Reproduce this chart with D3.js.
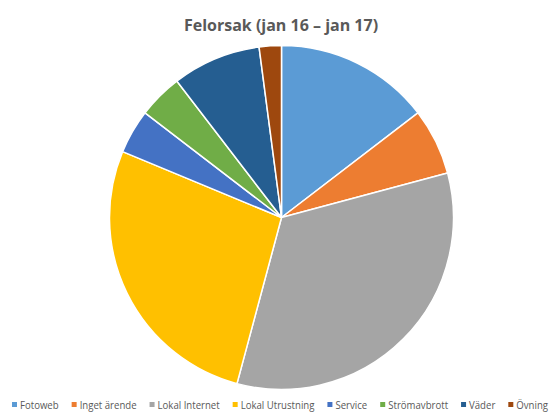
<!DOCTYPE html>
<html><head><meta charset="utf-8">
<script src="https://cdn.jsdelivr.net/npm/d3@7"></script>
<style>html,body{margin:0;padding:0;background:#fff;}svg{display:block;}</style>
</head><body>
<svg id="chart" width="557" height="412"></svg>
<script>
const categories = ["Fotoweb","Inget ärende","Lokal Internet","Lokal Utrustning","Service","Strömavbrott","Väder","Övning"];
const values = [7,3,16,13,2,2,4,1];
const colors = ["#5B9BD5","#ED7D31","#A5A5A5","#FFC000","#4472C4","#70AD47","#255E91","#9E480E"];
const title = "Felorsak (jan 16 – jan 17)";

const svg = d3.select("#chart");
const cx = 281.5, cy = 217.5, R = 172;

svg.append("text").attr("x", 281).attr("y", 31).attr("text-anchor","middle")
  .attr("font-family","'Open Sans', 'Liberation Sans', sans-serif").attr("font-weight","bold")
  .attr("font-size", 16).attr("fill","#595959").text(title);

const pie = d3.pie().sort(null).value(d => d.v);
const data = categories.map((c,i)=>({c, v: values[i]}));
const arc = d3.arc().innerRadius(0).outerRadius(R);
const color = d3.scaleOrdinal().domain(categories).range(colors);

svg.append("g").attr("transform",`translate(${cx},${cy})`)
  .selectAll("path").data(pie(data)).join("path")
  .attr("d", arc).attr("fill", d => color(d.data.c))
  .attr("stroke","#fff").attr("stroke-width",1.5).attr("stroke-linejoin","round");

// legend
const lg = svg.append("g");
const fs = 11;
const items = lg.selectAll("g").data(categories).join("g");
items.append("rect").attr("width",5).attr("height",5).attr("y",-6.5).attr("fill", d=>color(d));
const texts = items.append("text").attr("x",8).attr("y",0).attr("font-family","'Open Sans', 'Liberation Sans', sans-serif")
  .attr("font-size",fs).attr("fill","#595959").text(d=>d);
const gap = 13, avail = 536;
let tw = [];
texts.each(function(){ tw.push(this.getComputedTextLength()); });
const fixed = 8*tw.length + gap*(tw.length-1);
const k = Math.min(1, (avail - fixed)/d3.sum(tw));
if (k < 1) texts.attr("textLength", (d,i)=>tw[i]*k).attr("lengthAdjust","spacingAndGlyphs");
const widths = tw.map(w => 8 + w*k);
const total = d3.sum(widths) + gap*(widths.length-1);
let x = 12 + (avail - total)/2;
items.attr("transform", (d,i)=>{ const t = `translate(${x},${408.5})`; x += widths[i] + gap; return t; });
</script>
</body></html>
